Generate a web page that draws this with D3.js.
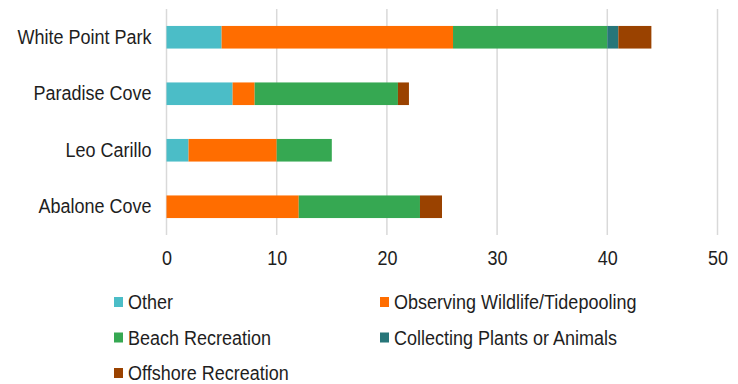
<!DOCTYPE html>
<html>
<head>
<meta charset="utf-8">
<script src="https://cdn.jsdelivr.net/npm/d3@7"></script>
<style>
  body { margin: 0; background: #fff; }
  text { font-family: "Liberation Sans", Arial, sans-serif; fill: #1e1e1e; }
</style>
</head>
<body>
<svg id="chart" width="738" height="384"></svg>
<script>
// Data
var sites = ['White Point Park', 'Paradise Cove', 'Leo Carillo', 'Abalone Cove'];
var activities = ['Other', 'Observing Wildlife/Tidepooling', 'Beach Recreation',
                  'Collecting Plants or Animals', 'Offshore Recreation'];
var colours = ['#4bbdc7', '#ff6d00', '#36a852', '#277679', '#9a4200'];

var other      = [5, 6, 2, 0];
var wildlife   = [21, 2, 8, 12];
var beach      = [14, 13, 5, 11];
var collecting = [1, 0, 0, 0];
var offshore   = [3, 1, 0, 2];
var xTicks = [0, 10, 20, 30, 40, 50];

var svg = d3.select('#chart');

// Text in the reference is a little taller than plain Arial
var stretch = 'scale(1,1.12)';

// Build rows for the stack
var rows = sites.map(function(s, i) {
	return {
		site: s,
		'Other': other[i],
		'Observing Wildlife/Tidepooling': wildlife[i],
		'Beach Recreation': beach[i],
		'Collecting Plants or Animals': collecting[i],
		'Offshore Recreation': offshore[i]
	};
});
var series = d3.stack().keys(activities)(rows);

// Scales
var xScale = d3.scaleLinear().domain([0, 50]).range([166.5, 717.5]);
var yScale = d3.scaleBand().domain(sites).range([9, 235])
	.paddingInner(0.6).paddingOuter(0.3);
var colour = d3.scaleOrdinal().domain(activities).range(colours);

// Gridlines
svg.append('g')
	.selectAll('line')
	.data(xTicks)
	.enter()
	.append('line')
	.attr('x1', function(d) { return xScale(d); })
	.attr('x2', function(d) { return xScale(d); })
	.attr('y1', 9)
	.attr('y2', 235)
	.attr('stroke', '#d9d9d9')
	.attr('stroke-width', 1.5);

// Bars
svg.append('g')
	.selectAll('g')
	.data(series)
	.enter()
	.append('g')
	.attr('fill', function(d) { return colour(d.key); })
	.selectAll('rect')
	.data(function(d) { return d; })
	.enter()
	.append('rect')
	.attr('x', function(d) { return xScale(d[0]); })
	.attr('y', function(d) { return yScale(d.data.site); })
	.attr('width', function(d) { return xScale(d[1]) - xScale(d[0]); })
	.attr('height', yScale.bandwidth());

// x axis labels
var xAxis = d3.axisBottom(xScale).tickValues(xTicks).tickSize(0).tickPadding(0);
var gx = svg.append('g')
	.attr('transform', 'translate(0,251)')
	.call(xAxis);
gx.select('.domain').remove();
gx.selectAll('text')
	.attr('dy', '0.71em')
	.attr('transform', stretch)
	.style('font-size', '18px')
	.style('font-family', '"Liberation Sans", Arial, sans-serif')
	.attr('fill', '#1e1e1e');

// y axis labels
var yAxis = d3.axisLeft(yScale).tickSize(0).tickPadding(15);
var gy = svg.append('g')
	.attr('transform', 'translate(166.5,0)')
	.call(yAxis);
gy.select('.domain').remove();
gy.selectAll('text')
	.attr('transform', stretch)
	.style('font-size', '18px')
	.style('font-family', '"Liberation Sans", Arial, sans-serif')
	.attr('fill', '#1e1e1e');

// Legend
var legendX = [114, 380];
var legendY = [302, 337.5, 373];
var legend = svg.append('g')
	.selectAll('g')
	.data(activities)
	.enter()
	.append('g')
	.attr('transform', function(d, i) {
		return 'translate(' + legendX[i % 2] + ',' + legendY[Math.floor(i / 2)] + ')';
	});

legend.append('rect')
	.attr('x', 0)
	.attr('y', -5)
	.attr('width', 9)
	.attr('height', 10)
	.attr('fill', function(d) { return colour(d); });

legend.append('text')
	.attr('x', 14)
	.attr('y', 0)
	.attr('dy', '0.35em')
	.attr('transform', stretch)
	.style('font-size', '18px')
	.text(function(d) { return d; });
</script>
</body>
</html>
